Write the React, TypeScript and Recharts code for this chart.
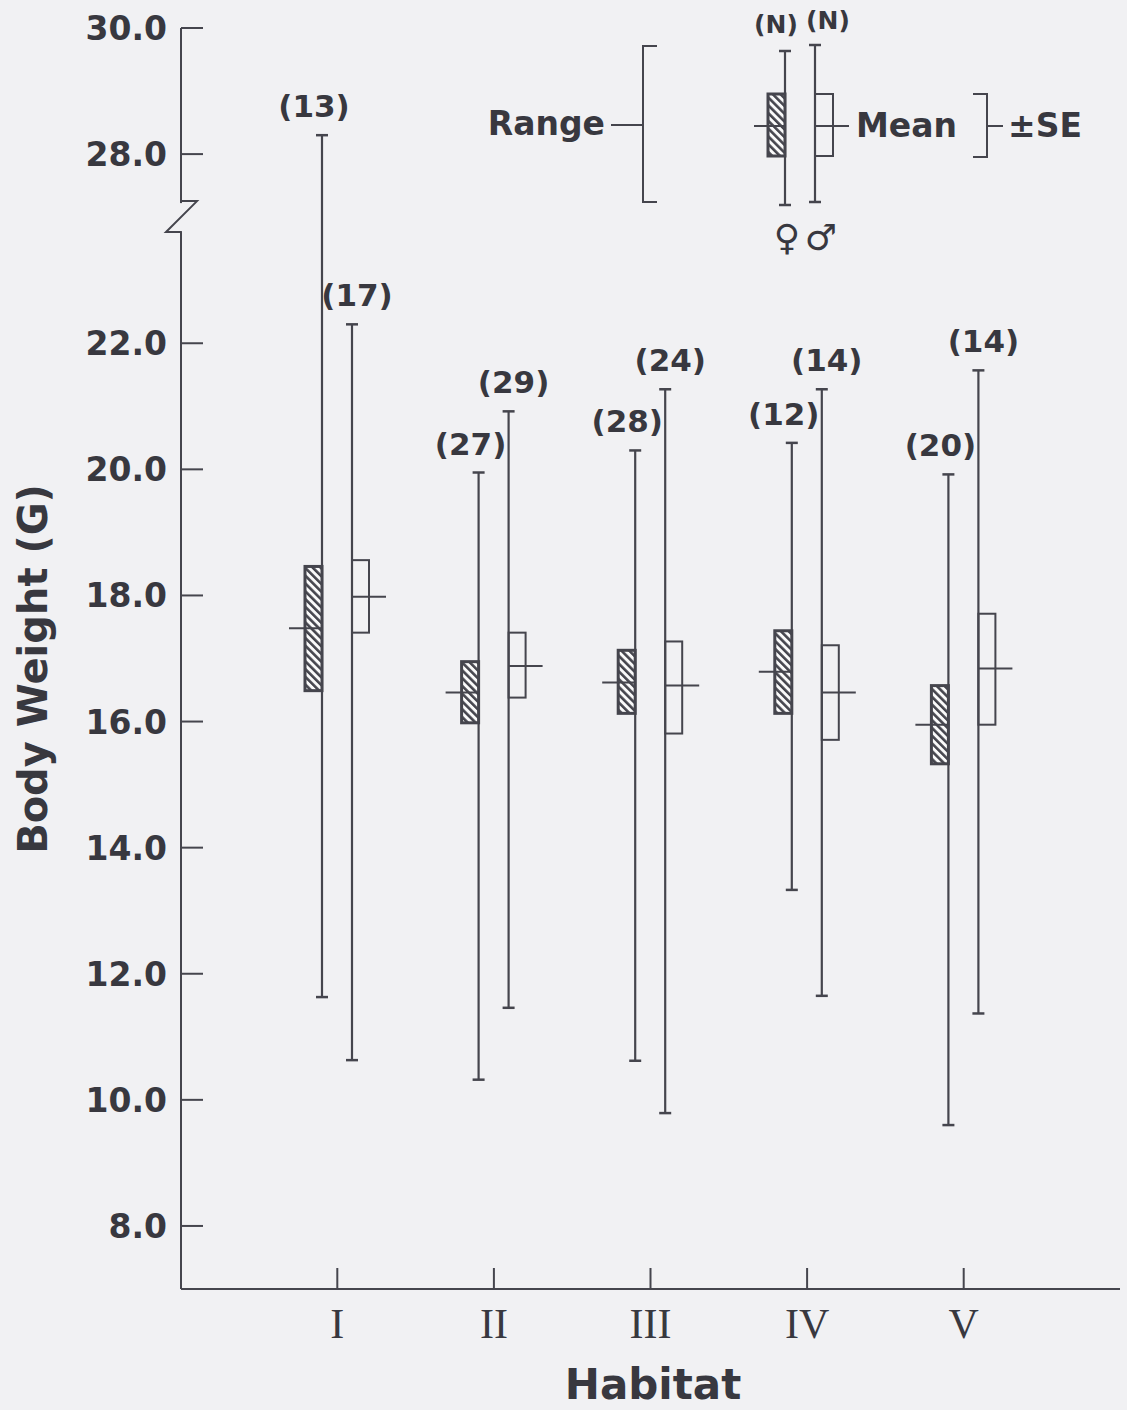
import { BarChart, Bar, XAxis, YAxis } from 'recharts'

const habitats = ['I', 'II', 'III', 'IV', 'V']

const femaleN = [13, 27, 28, 12, 20]
const femaleMin = [11.63, 10.32, 10.62, 13.33, 9.6]
const femaleMax = [28.3, 19.95, 20.3, 20.42, 19.92]
const femaleSeLo = [16.49, 15.98, 16.13, 16.13, 15.33]
const femaleSeHi = [18.46, 16.95, 17.13, 17.44, 16.57]
const femaleMean = [17.48, 16.46, 16.62, 16.79, 15.95]

const maleN = [17, 29, 24, 14, 14]
const maleMin = [10.63, 11.46, 9.79, 11.65, 11.37]
const maleMax = [22.3, 20.92, 21.27, 21.27, 21.57]
const maleSeLo = [17.41, 16.38, 15.81, 15.71, 15.95]
const maleSeHi = [18.56, 17.41, 17.27, 17.21, 17.71]
const maleMean = [17.98, 16.88, 16.57, 16.46, 16.84]

const yTicks = [8, 10, 12, 14, 16, 18, 20, 22, 28, 30]

// the axis is broken between 22 and 28: everything at or above 27 g is drawn 3 units lower
const toAxis = (v: number) => (v >= 27 ? v - 3 : v)
const fromAxis = (v: number) => (v > 24 ? v + 3 : v)

const BG = '#f1f1f3'
const INK = '#45454d'
const TEXT = '#38383f'
const SANS = '"DejaVu Sans", sans-serif'

type Stats = { n: number; min: number; max: number; lo: number; hi: number; mean: number }

const rows = habitats.map((h, i) => ({
  habitat: h,
  f: { n: femaleN[i], min: femaleMin[i], max: femaleMax[i], lo: femaleSeLo[i], hi: femaleSeHi[i], mean: femaleMean[i] } as Stats,
  m: { n: maleN[i], min: maleMin[i], max: maleMax[i], lo: maleSeLo[i], hi: maleSeHi[i], mean: maleMean[i] } as Stats,
}))

function Hatch({ id }: { id: string }) {
  return (
    <defs>
      <pattern id={id} width="5.5" height="5.5" patternUnits="userSpaceOnUse" patternTransform="rotate(-45)">
        <rect width="5.5" height="5.5" fill="#fafafa" />
        <rect width="2.6" height="5.5" fill={INK} />
      </pattern>
    </defs>
  )
}

function RangeBox(props: any, sex: 'f' | 'm') {
  const { x, y, width, height, payload, index } = props
  const s: Stats = payload[sex]
  const top = Math.min(y, y + height)
  const bottom = Math.max(y, y + height)
  const a = toAxis(s.min)
  const b = toAxis(s.max)
  const py = (v: number) => top + ((b - toAxis(v)) / (b - a)) * (bottom - top)
  const cx = x + width / 2
  const female = sex === 'f'
  const boxX = female ? cx - 17 : cx
  const id = `hatch-${sex}-${index}`
  return (
    <g>
      {female && <Hatch id={id} />}
      <line x1={cx} x2={cx} y1={top} y2={bottom} stroke={INK} strokeWidth={2.2} />
      <line x1={cx - 6} x2={cx + 6} y1={top} y2={top} stroke={INK} strokeWidth={2.5} />
      <line x1={cx - 6} x2={cx + 6} y1={bottom} y2={bottom} stroke={INK} strokeWidth={2.5} />
      <rect
        x={boxX}
        y={py(s.hi)}
        width={17}
        height={py(s.lo) - py(s.hi)}
        fill={female ? `url(#${id})` : 'none'}
        stroke={INK}
        strokeWidth={female ? 3 : 2}
      />
      <line
        x1={female ? cx - 33 : cx}
        x2={female ? cx : cx + 34}
        y1={py(s.mean)}
        y2={py(s.mean)}
        stroke={INK}
        strokeWidth={2}
      />
      <text
        x={cx + (female ? -8 : 5)}
        y={top - 18}
        textAnchor="middle"
        fontFamily={SANS}
        fontWeight="bold"
        fontSize={31}
        fill={TEXT}
      >
        ({s.n})
      </text>
    </g>
  )
}

function YTick({ x, y, payload }: any) {
  const v = fromAxis(payload.value)
  return (
    <g>
      <line x1={x} x2={x + 22} y1={y} y2={y} stroke={INK} strokeWidth={2} />
      <text x={x - 14} y={y + 12} textAnchor="end" fontFamily={SANS} fontWeight="bold" fontSize={33} fill={TEXT}>
        {v.toFixed(1)}
      </text>
      {v === 28 && (
        <g>
          <rect x={x - 4} y={y + 49} width={8} height={28} fill={BG} />
          <polyline
            points={`${x},${y + 47} ${x + 16},${y + 47} ${x - 15},${y + 78} ${x},${y + 78}`}
            fill="none"
            stroke={INK}
            strokeWidth={2}
          />
        </g>
      )}
    </g>
  )
}

function XTick({ x, y, payload }: any) {
  return (
    <g>
      <line x1={x} x2={x} y1={y} y2={y - 21} stroke={INK} strokeWidth={2} />
      <text x={x} y={y + 49} textAnchor="middle" fontFamily='"Liberation Serif", serif' fontSize={42} fill={TEXT}>
        {payload.value}
      </text>
    </g>
  )
}

function Key() {
  const t = { fontFamily: SANS, fontWeight: 'bold' as const, fill: TEXT }
  return (
    <svg width={1127} height={1410} style={{ position: 'absolute', left: 0, top: 0, pointerEvents: 'none' }}>
      <Hatch id="hatch-key" />
      <text {...t} x={605} y={135} fontSize={33} textAnchor="end">Range</text>
      <line x1={611} x2={643} y1={125} y2={125} stroke={INK} strokeWidth={2} />
      <polyline points="657,46 643,46 643,202 657,202" fill="none" stroke={INK} strokeWidth={2} />

      <line x1={785} x2={785} y1={51} y2={205} stroke={INK} strokeWidth={2.2} />
      <line x1={779} x2={791} y1={51} y2={51} stroke={INK} strokeWidth={2.5} />
      <line x1={779} x2={791} y1={205} y2={205} stroke={INK} strokeWidth={2.5} />
      <rect x={768} y={94} width={17} height={62} fill="url(#hatch-key)" stroke={INK} strokeWidth={3} />
      <line x1={754} x2={785} y1={126} y2={126} stroke={INK} strokeWidth={2} />

      <line x1={815} x2={815} y1={45} y2={202} stroke={INK} strokeWidth={2.2} />
      <line x1={809} x2={821} y1={45} y2={45} stroke={INK} strokeWidth={2.5} />
      <line x1={809} x2={821} y1={202} y2={202} stroke={INK} strokeWidth={2.5} />
      <rect x={815} y={94} width={18} height={62} fill="none" stroke={INK} strokeWidth={2} />
      <line x1={815} x2={849} y1={126} y2={126} stroke={INK} strokeWidth={2} />

      <text {...t} x={856} y={137} fontSize={33}>Mean</text>
      <polyline points="973,94 987,94 987,157 973,157" fill="none" stroke={INK} strokeWidth={2} />
      <line x1={987} x2={1003} y1={126} y2={126} stroke={INK} strokeWidth={2} />
      <text {...t} x={1008} y={137} fontSize={33}>±SE</text>

      <text {...t} x={776} y={33} fontSize={25} textAnchor="middle">(N)</text>
      <text {...t} x={828} y={29} fontSize={25} textAnchor="middle">(N)</text>
      <text x={787} y={250} fontSize={36} fontFamily={SANS} fill={TEXT} textAnchor="middle">♀</text>
      <text x={821} y={250} fontSize={36} fontFamily={SANS} fill={TEXT} textAnchor="middle">♂</text>

      <text {...t} x={0} y={0} fontSize={40} textAnchor="middle" transform="translate(47,669) rotate(-90)">
        Body Weight (G)
      </text>
      <text {...t} x={653} y={1399} fontSize={42} textAnchor="middle">Habitat</text>
    </svg>
  )
}

export default function App() {
  return (
    <div style={{ position: 'absolute', left: 0, top: 0, width: 1127, height: 1410, background: BG }}>
      <BarChart
        width={1127}
        height={1410}
        data={rows}
        margin={{ top: 28, right: 7, left: 81, bottom: 61 }}
        barSize={30}
        barGap={0}
      >
        <XAxis
          dataKey="habitat"
          height={60}
          padding={{ left: 78, right: 78 }}
          axisLine={{ stroke: INK, strokeWidth: 2 }}
          tickLine={false}
          tickSize={0}
          tickMargin={0}
          tick={<XTick />}
          interval={0}
        />
        <YAxis
          type="number"
          width={100}
          domain={[7, 27]}
          ticks={yTicks.map(toAxis)}
          allowDataOverflow
          axisLine={{ stroke: INK, strokeWidth: 2 }}
          tickLine={false}
          tickSize={0}
          tickMargin={0}
          tick={<YTick />}
          interval={0}
        />
        <Bar
          dataKey={(r: any) => [toAxis(r.f.min), toAxis(r.f.max)]}
          shape={(p: any) => RangeBox(p, 'f')}
          isAnimationActive={false}
        />
        <Bar
          dataKey={(r: any) => [toAxis(r.m.min), toAxis(r.m.max)]}
          shape={(p: any) => RangeBox(p, 'm')}
          isAnimationActive={false}
        />
      </BarChart>
      <Key />
    </div>
  )
}
